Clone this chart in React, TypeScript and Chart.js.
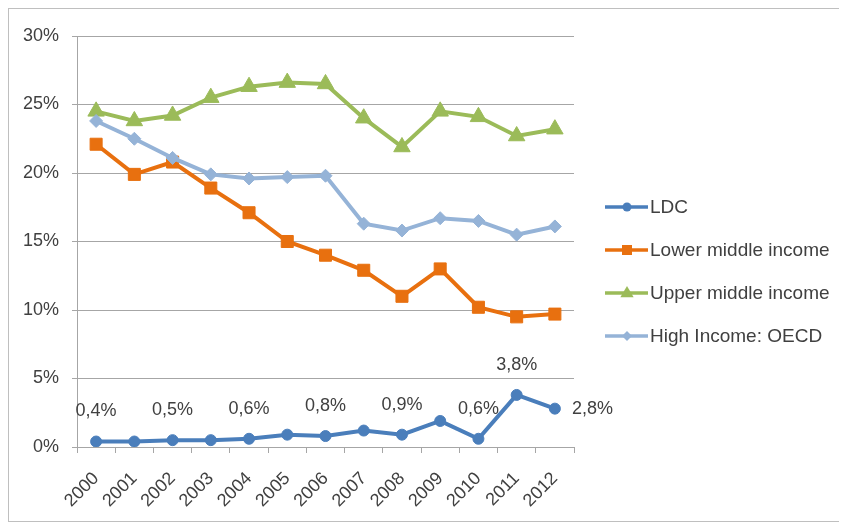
import React, { useEffect, useRef } from "react";
import { Chart, registerables } from "chart.js";

Chart.register(...registerables);

const years = ["2000", "2001", "2002", "2003", "2004", "2005", "2006", "2007", "2008", "2009", "2010", "2011", "2012"];
const ldc = [0.4, 0.4, 0.5, 0.5, 0.6, 0.9, 0.8, 1.2, 0.9, 1.9, 0.6, 3.8, 2.8];
const lowerMiddle = [22.1, 19.9, 20.8, 18.9, 17.1, 15.0, 14.0, 12.9, 11.0, 13.0, 10.2, 9.5, 9.7];
const upperMiddle = [24.5, 23.8, 24.2, 25.5, 26.3, 26.6, 26.5, 24.0, 21.9, 24.5, 24.1, 22.7, 23.2];
const highOecd = [23.8, 22.5, 21.1, 19.9, 19.6, 19.7, 19.8, 16.3, 15.8, 16.7, 16.5, 15.5, 16.1];
const ldcLabels = ["0,4%", "", "0,5%", "", "0,6%", "", "0,8%", "", "0,9%", "", "0,6%", "3,8%", "2,8%"];
const seriesNames = ["LDC", "Lower middle income", "Upper middle income", "High Income: OECD"];
const yTicks = [0, 5, 10, 15, 20, 25, 30];

const FONT = '"Liberation Sans", Arial, sans-serif';
const TEXT = "#404040";
const GRID = "#A6A6A6";
const colors = ["#4A7EBB", "#E8700F", "#9BBB59", "#95B3D7"];
const styles = ["circle", "rect", "triangle", "rectRot"];
const radii = [5.5, 8.5, 9.5, 6.5];

function drawMarker(ctx: CanvasRenderingContext2D, style: string, x: number, y: number, r: number) {
  ctx.beginPath();
  if (style === "circle") {
    ctx.arc(x, y, r, 0, Math.PI * 2);
  } else if (style === "rect") {
    ctx.rect(x - r, y - r, 2 * r, 2 * r);
  } else if (style === "triangle") {
    ctx.moveTo(x, y - r);
    ctx.lineTo(x + r * 0.95, y + r * 0.6);
    ctx.lineTo(x - r * 0.95, y + r * 0.6);
    ctx.closePath();
  } else {
    ctx.moveTo(x, y - r);
    ctx.lineTo(x + r, y);
    ctx.lineTo(x, y + r);
    ctx.lineTo(x - r, y);
    ctx.closePath();
  }
  ctx.fill();
}

export default function App() {
  const ref = useRef<HTMLCanvasElement>(null);

  useEffect(() => {
    if (!ref.current) return;

    const labelPlugin = {
      id: "ldcLabels",
      afterDatasetsDraw(chart: any) {
        const meta = chart.getDatasetMeta(0);
        const ctx = chart.ctx as CanvasRenderingContext2D;
        ctx.save();
        ctx.font = `18px ${FONT}`;
        ctx.fillStyle = TEXT;
        ctx.textBaseline = "middle";
        meta.data.forEach((pt: any, i: number) => {
          const t = ldcLabels[i];
          if (!t) return;
          if (i === meta.data.length - 1) {
            ctx.textAlign = "left";
            ctx.fillText(t, pt.x + 17, pt.y);
          } else {
            ctx.textAlign = "center";
            ctx.fillText(t, pt.x, pt.y - 30);
          }
        });
        ctx.restore();
      },
    };

    const legendPlugin = {
      id: "sideLegend",
      afterDraw(chart: any) {
        const ctx = chart.ctx as CanvasRenderingContext2D;
        const area = chart.chartArea;
        const x0 = area.right + 31;
        const y0 = area.top + 171;
        const legendR = [4.5, 5, 7, 5];
        ctx.save();
        seriesNames.forEach((name, i) => {
          const y = y0 + i * 43;
          ctx.strokeStyle = colors[i];
          ctx.fillStyle = colors[i];
          ctx.lineWidth = 3.5;
          ctx.beginPath();
          ctx.moveTo(x0, y);
          ctx.lineTo(x0 + 43, y);
          ctx.stroke();
          drawMarker(ctx, styles[i], x0 + 22, y, legendR[i]);
          ctx.font = `19px ${FONT}`;
          ctx.fillStyle = TEXT;
          ctx.textAlign = "left";
          ctx.textBaseline = "middle";
          ctx.fillText(name, x0 + 45, y + 1);
        });
        ctx.restore();
      },
    };

    const series = [ldc, lowerMiddle, upperMiddle, highOecd];
    const orders = [3, 2, 1, 0];

    const chart = new Chart(ref.current, {
      type: "line",
      data: {
        labels: years,
        datasets: series.map((d, i) => ({
          label: seriesNames[i],
          data: d,
          borderColor: colors[i],
          backgroundColor: colors[i],
          pointBackgroundColor: colors[i],
          pointBorderColor: colors[i],
          pointStyle: styles[i] as any,
          pointRadius: radii[i],
          pointBorderWidth: 1,
          borderWidth: 4,
          tension: 0,
          order: orders[i],
        })),
      },
      options: {
        responsive: false,
        animation: false,
        events: [],
        layout: { padding: { top: 27, right: 265, left: 0, bottom: 0 } },
        plugins: {
          legend: { display: false },
          tooltip: { enabled: false },
          title: { display: false },
        },
        scales: {
          x: {
            type: "category",
            offset: true,
            grid: {
              offset: true,
              drawOnChartArea: false,
              drawTicks: true,
              tickLength: 6,
              color: GRID,
            },
            border: { display: true, color: GRID, width: 1 },
            ticks: {
              autoSkip: false,
              maxRotation: 45,
              minRotation: 45,
              color: TEXT,
              font: { family: FONT, size: 18 },
              padding: 15,
            },
            afterFit(scale: any) {
              scale.height = 74;
            },
          },
          y: {
            min: 0,
            max: 30,
            afterBuildTicks(scale: any) {
              scale.ticks = yTicks.map((v) => ({ value: v }));
            },
            grid: {
              color: GRID,
              lineWidth: 1,
              drawTicks: true,
              tickLength: 5,
            },
            border: { display: true, color: GRID, width: 1 },
            ticks: {
              color: TEXT,
              font: { family: FONT, size: 18 },
              padding: 13,
              callback: (v: any) => `${v}%`,
            },
            afterFit(scale: any) {
              scale.width = 68;
            },
          },
        },
      },
      plugins: [labelPlugin, legendPlugin],
    });

    return () => chart.destroy();
  }, []);

  return (
    <div
      style={{
        width: 832,
        height: 514,
        border: "1px solid #BFBFBF",
        boxSizing: "border-box",
        background: "#fff",
      }}
    >
      <canvas ref={ref} width={830} height={512} style={{ display: "block" }} />
    </div>
  );
}
